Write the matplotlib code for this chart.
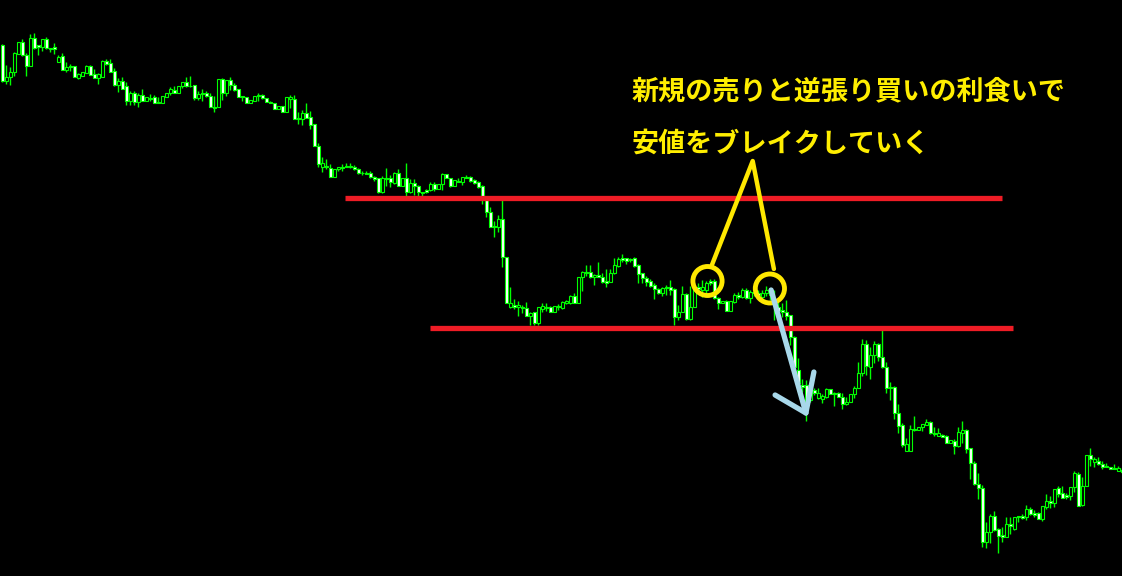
import matplotlib
matplotlib.use("Agg")
import matplotlib.pyplot as plt
from matplotlib.patches import Ellipse
import numpy as np

plt.rcParams['font.family'] = ['Noto Sans CJK JP', 'DejaVu Sans']

# OHLC (arbitrary price units, one candle every 4 px)
opens = [
    555, 519, 523, 528, 546, 558, 545, 534, 562, 555,
    553, 561, 552, 553, 538, 544, 530, 534, 534, 522,
    524, 527, 534, 526, 522, 523, 539, 537, 529, 515,
    519, 514, 499, 507, 498, 505, 499, 502, 503, 498,
    497, 503, 507, 510, 507, 514, 518, 514.5, 515, 502,
    507, 507, 504, 493, 493, 521, 507, 520, 515, 511,
    504, 503, 497, 499, 504, 505, 502, 498, 497, 491,
    494, 488, 501, 501, 482, 481, 487, 483, 476, 454,
    433, 434, 432, 423, 431, 433, 434, 434, 433, 431,
    427.5, 427, 427, 423, 422, 408, 422, 422, 417, 427,
    414, 422, 408, 417, 414, 408, 410, 410, 416, 411,
    416, 426, 422, 414, 419, 418, 423, 423, 420, 418,
    414, 400, 388, 374, 373, 381, 343, 293, 295, 293,
    293, 292, 284, 288, 277, 291, 293, 293, 288, 294,
    292, 297, 297, 304, 297, 323, 328, 328, 323, 325,
    323, 319, 318, 327, 334, 342, 342, 341, 342, 335,
    327, 322, 319, 315, 311, 307, 313, 313, 311, 283,
    288, 306, 281, 293, 313, 310, 310, 319, 319, 302,
    297, 299, 289, 298, 305, 303, 310, 302, 308, 307,
    303, 307, 310, 300, 293, 290, 288, 285, 263, 230,
    215, 215, 200, 210, 202, 201, 203, 211, 207, 207,
    203, 196, 198, 206, 212, 227, 256, 233, 245, 256,
    243, 233, 213, 213, 187, 175, 149, 149, 171, 170,
    173, 175, 178, 167, 164, 165, 164, 157, 159, 154,
    167, 170, 152, 137, 116, 112, 58, 68, 84, 71,
    65, 63, 76, 71, 84, 84, 83, 91, 87, 87,
    81, 93, 99, 97, 112, 107, 105, 104, 113, 126,
    95, 114, 145, 138, 139, 136, 134, 133, 132, 129, 130,
]
closes = [
    519, 523, 528, 547, 558, 545, 534, 562, 552, 553,
    561, 552, 551.5, 551, 543, 530, 533, 533, 523, 526,
    528, 534, 525, 522, 526, 539, 536, 528, 515, 519,
    511, 499, 507, 498, 505, 499, 503, 501, 497, 497,
    504, 507, 511, 507, 514, 518, 514, 514, 502, 506,
    506, 504, 493, 492.5, 521, 507, 520, 515, 510, 503,
    503, 497, 500, 504, 505, 502, 498, 497, 491, 494,
    488, 503, 503, 481, 481, 487, 482, 475, 454, 436,
    437, 433, 423, 431, 433, 432.5, 433.5, 433.5, 431, 427,
    427, 426.5, 423, 421, 408, 422, 421.5, 418, 427, 414,
    422, 408, 417, 414, 408, 407.5, 408, 416, 411, 416,
    426, 422, 414, 420, 418.5, 423, 422.5, 419, 417, 413,
    403, 388, 373, 373, 381, 343, 297, 297, 293, 295,
    292, 284, 287, 277, 293, 294, 292, 288, 294, 293,
    298, 299, 304, 297, 323, 328, 327, 323, 325, 323,
    318, 317, 327, 335, 341, 340, 339, 340, 334, 326,
    322, 318, 314, 311, 307, 312, 312, 310, 283, 288,
    306, 281, 293, 313, 311, 313, 317, 317, 302, 297,
    299, 289, 299, 305, 303, 310, 302, 308, 307.5, 305,
    307, 310, 305, 295, 289, 288, 284, 263, 233, 217,
    213, 192, 210, 207, 207, 204, 211, 206, 206, 203,
    196, 198, 206, 212, 227, 256, 234, 245, 256, 243,
    233, 212, 212, 187, 174, 155, 156, 171, 170, 173,
    176, 178, 167, 166, 167, 163, 157, 160, 154, 168,
    170, 151, 137, 116, 112, 58, 68, 84, 70, 64,
    63, 76, 74, 83, 83, 82, 91, 86, 85, 81,
    94, 99, 97, 111, 106, 102, 103, 113, 127, 94,
    114, 145, 141, 141, 136, 133, 133, 131, 131, 132, 128,
]
highs = [
    556, 535, 533, 548, 558, 561, 547, 566, 567, 555,
    561, 563, 552, 557, 545, 547, 538, 536, 534, 527,
    528, 535, 535, 531, 527, 540, 541, 541, 532, 522,
    523, 518, 509, 509, 507, 511, 503, 506, 505, 503,
    504, 507, 513, 514, 514, 518, 523, 524, 515, 509,
    511, 509, 507, 504, 521, 522, 520, 523, 517, 511,
    504, 503, 500, 504, 507, 506, 502, 499, 497, 494,
    494, 503, 505, 505, 488, 490, 497, 489, 476, 457,
    443, 441, 436, 431, 433, 436, 437, 437, 435, 432,
    429, 429, 429, 424, 422, 424, 432, 425, 428, 431,
    422, 437, 421, 421, 415, 408, 411, 418, 418, 416,
    427, 426, 422, 420, 422, 423, 425, 424, 421, 419,
    415, 403, 393, 379, 385, 400, 343, 313, 301, 299,
    295, 298, 288, 288, 293, 297, 297, 294, 294, 296,
    299, 300, 305, 307, 323, 329, 335, 335, 326, 338,
    327, 331, 331, 342, 343, 346, 342, 342, 343, 336,
    327, 324, 321, 317, 312, 313, 315, 320, 312, 295,
    314, 307, 314, 317, 317, 320, 319, 321, 321, 303,
    299, 300, 299, 307, 308, 312, 312, 310, 312, 310,
    310, 314, 312, 310, 298, 297, 300, 285, 264, 242,
    221, 220, 212, 212, 212, 206, 212, 211, 208, 208,
    207, 203, 206, 214, 238, 261, 260, 253, 259, 257,
    270, 238, 218, 214, 196, 177, 162, 175, 184, 173,
    176, 181, 179, 173, 172, 166, 165, 160, 161, 173,
    179, 171, 152, 139, 127, 115, 78, 86, 89, 72,
    73, 83, 83, 83, 84, 86, 95, 93, 90, 88,
    94, 106, 104, 111, 114, 114, 107, 113, 129, 128,
    123, 145, 152, 143, 143, 139, 137, 133, 136, 134, 132,
]
lows = [
    518, 516, 515, 524, 546, 544, 524, 534, 551, 545,
    549, 551, 548, 546, 538, 530, 528, 529, 523, 521,
    524, 527, 525, 522, 516, 523, 535, 528, 514, 508,
    511, 495, 495, 495, 493, 499, 499, 499, 497, 497,
    497, 503, 505, 507, 507, 512, 513, 513, 500, 500,
    499, 503, 493, 488, 493, 500, 504, 510, 509, 503,
    499, 497, 497, 499, 499, 501, 498, 497, 491, 491,
    488, 488, 492, 481, 476, 475, 482, 471, 454, 433,
    428, 431, 423, 423, 429, 429, 433, 432, 430, 426,
    425, 426, 422, 419, 407, 407, 414, 413, 416, 414,
    414, 404, 407, 405, 404, 404, 407, 409, 409, 411,
    410, 422, 413, 414, 418, 415, 422, 418, 416, 412,
    396, 383, 373, 363, 368, 333, 297, 292, 291, 284,
    287, 284, 275, 275, 275, 288, 289, 288, 288, 290,
    291, 296, 296, 297, 297, 309, 324, 322, 315, 323,
    317, 313, 318, 326, 333, 338, 336, 338, 333, 317,
    317, 314, 313, 301, 306, 304, 305, 305, 275, 280,
    288, 280, 280, 293, 308, 303, 307, 315, 301, 291,
    297, 289, 289, 297, 301, 302, 301, 297, 304, 302,
    301, 304, 300, 280, 285, 283, 280, 255, 225, 208,
    208, 179, 198, 205, 201, 197, 202, 206, 194, 203,
    191, 195, 198, 202, 212, 224, 225, 221, 237, 239,
    232, 207, 200, 181, 167, 153, 149, 149, 169, 170,
    169, 175, 166, 164, 164, 163, 157, 157, 146, 153,
    157, 147, 121, 115, 101, 53, 52, 57, 69, 47,
    58, 63, 66, 70, 78, 81, 80, 85, 83, 81,
    79, 91, 92, 93, 103, 102, 101, 100, 108, 94,
    94, 114, 134, 133, 135, 131, 133, 131, 131, 129, 127,
]

# horizontal levels: price, first candle, last candle
upper_level = [401.7, 85.7, 249.9]
lower_level = [272.5, 106.9, 252.7]

note_lines = ["新規の売りと逆張り買いの利食いで", "安値をブレイクしていく"]

n = min(len(opens), len(closes), len(highs), len(lows))
x = np.arange(n)
o = np.array(opens[:n], float)
c = np.array(closes[:n], float)
h = np.array(highs[:n], float)
l = np.array(lows[:n], float)

fig = plt.figure(figsize=(11.22, 5.76), dpi=100, facecolor='black')
ax = fig.add_axes([0, 0, 1, 1])
ax.set_facecolor('black')
ax.set_xlim(-0.575, 279.925)
ax.set_ylim(24, 600)
ax.axis('off')

green = '#00ff00'
ax.vlines(x, l, h, color=green, lw=1.0, zorder=1)
up = c >= o
body_bot = np.minimum(o, c)
body_h = np.abs(c - o)
ax.bar(x[up], body_h[up], bottom=body_bot[up], width=0.75,
       color='black', edgecolor=green, linewidth=0.8, zorder=2)
ax.bar(x[~up], body_h[~up], bottom=body_bot[~up], width=0.75,
       color='white', edgecolor=green, linewidth=0.8, zorder=2)

# support / resistance lines
red = '#ee1c25'
for lvl, x0, x1 in (upper_level, lower_level):
    ax.plot([x0, x1], [lvl, lvl], color=red, lw=3.8, solid_capstyle='butt', zorder=3)

# yellow circles and pointer lines
yellow = '#ffe800'
for cx, cy in ((176.3, 319), (191.9, 311.5)):
    ax.add_patch(Ellipse((cx, cy), 7.3, 29, fill=False, edgecolor=yellow, lw=3.5, zorder=4))
apex = (187.6, 439)
ax.plot([177.4, apex[0], 192.9], [335, apex[1], 331], color=yellow, lw=3.2,
        solid_capstyle='round', solid_joinstyle='round', zorder=4)

# light blue arrow
blue = '#a8d8ea'
tip = (200.9, 187)
ax.plot([192.2, tip[0]], [310, tip[1]], color=blue, lw=3.8, solid_capstyle='round', zorder=5)
ax.plot([193.2, tip[0], 202.9], [205, tip[1], 228], color=blue, lw=3.8,
        solid_capstyle='round', solid_joinstyle='round', zorder=5)

for k, line in enumerate(note_lines):
    fig.text(632 / 1122, 1 - (91 + 53 * k) / 576, line, color='#ffee00',
             fontsize=19.5, fontweight='bold', ha='left', va='center')

fig.savefig('out.png', dpi=100, facecolor='black')
